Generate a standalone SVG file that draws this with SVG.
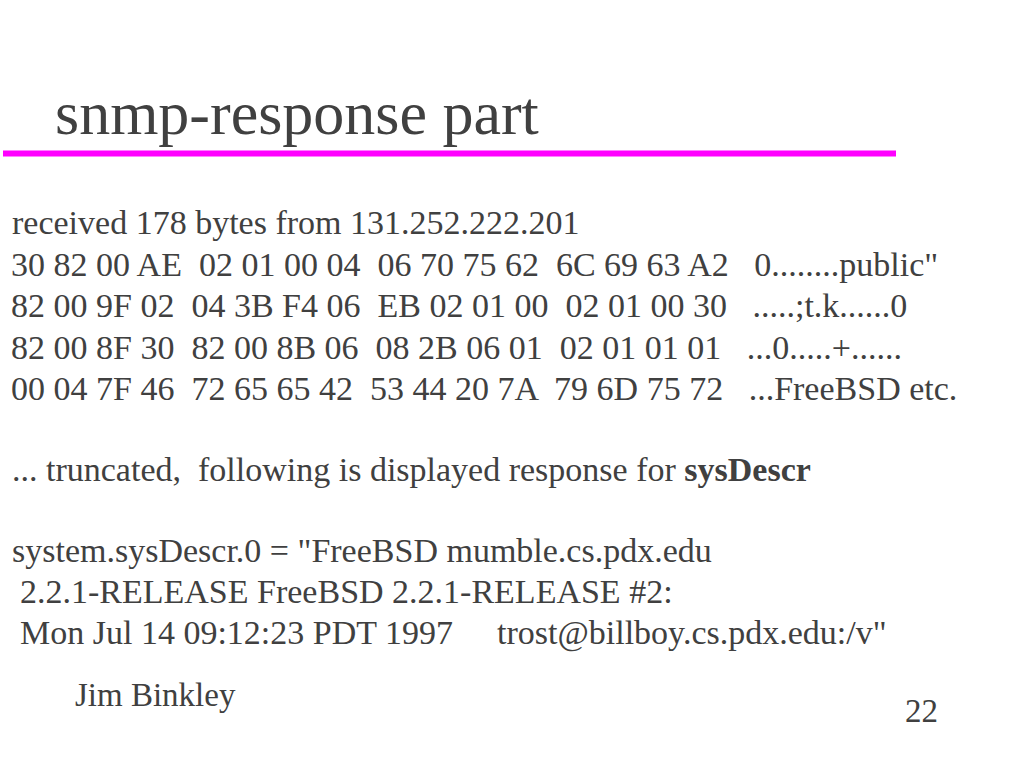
<svg xmlns="http://www.w3.org/2000/svg" width="1024" height="768" viewBox="0 0 1024 768">
  <style>
    text { font-family: "Liberation Serif", "Times New Roman", serif; fill: #404040; white-space: pre; }
    .title { font-size: 62px; }
    .body { font-size: 34px; }
    .foot { font-size: 33px; }
    .b { font-weight: bold; }
  </style>
  <rect width="1024" height="768" fill="#ffffff"/>
  <g id="title">
    <text class="title" x="55" y="134">snmp-response part</text>
    <rect x="3" y="150.5" width="893" height="6" fill="#ff00ff"/>
  </g>
  <g id="body">
    <text class="body" x="12" y="234" xml:space="preserve">received 178 bytes from 131.252.222.201</text>
    <text class="body" x="11" y="276" xml:space="preserve">30 82 00 AE  02 01 00 04  06 70 75 62  6C 69 63 A2   0........public"</text>
    <text class="body" x="11" y="317" xml:space="preserve">82 00 9F 02  04 3B F4 06  EB 02 01 00  02 01 00 30   .....;t.k......0</text>
    <text class="body" x="11" y="359" xml:space="preserve">82 00 8F 30  82 00 8B 06  08 2B 06 01  02 01 01 01   ...0.....+......</text>
    <text class="body" x="11" y="400" xml:space="preserve">00 04 7F 46  72 65 65 42  53 44 20 7A  79 6D 75 72   ...FreeBSD etc.</text>
    <text class="body" x="12" y="481" xml:space="preserve">... truncated,  following is displayed response for <tspan class="b">sysDescr</tspan></text>
    <text class="body" x="12" y="562" xml:space="preserve">system.sysDescr.0 = "FreeBSD mumble.cs.pdx.edu</text>
    <text class="body" x="20" y="603" xml:space="preserve">2.2.1-RELEASE FreeBSD 2.2.1-RELEASE #2:</text>
    <text class="body" x="20" y="644" xml:space="preserve">Mon Jul 14 09:12:23 PDT 1997<tspan x="497">trost@billboy.cs.pdx.edu:/v"</tspan></text>
  </g>
  <g id="footer">
    <text class="foot" x="75" y="706">Jim Binkley</text>
    <text class="foot" x="905" y="722">22</text>
  </g>
</svg>
